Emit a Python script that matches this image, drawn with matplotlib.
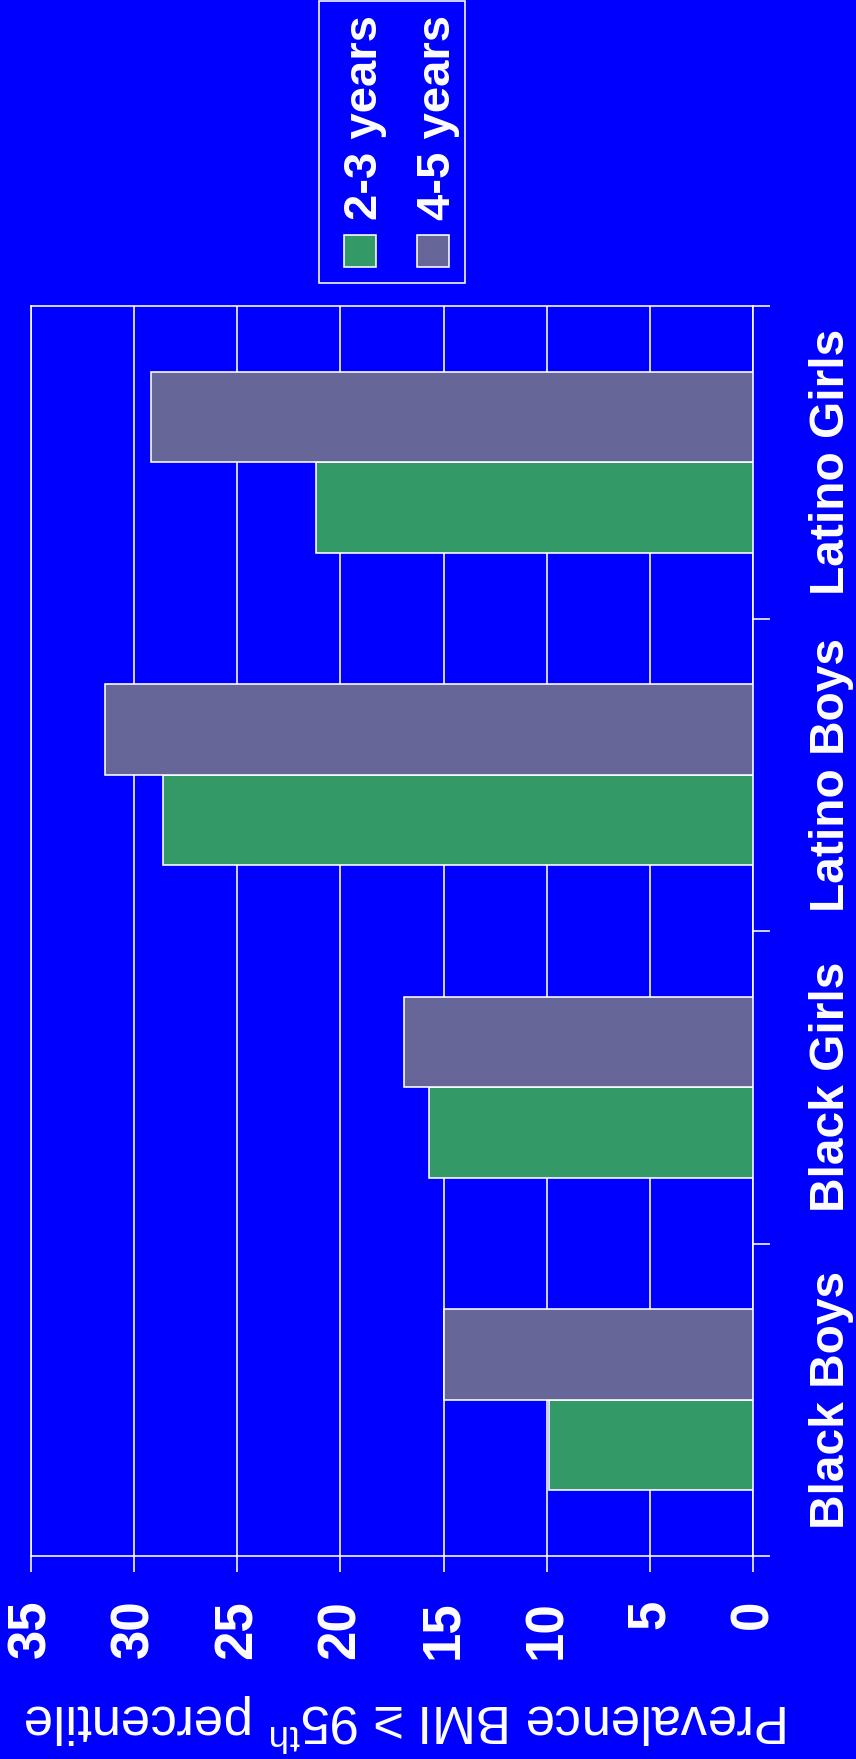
import matplotlib
matplotlib.use("Agg")
import matplotlib.pyplot as plt
from matplotlib.patches import Rectangle
import numpy as np

# ---- data ----
categories = ["Black Boys", "Black Girls", "Latino Boys", "Latino Girls"]
series_names = ["2-3 years", "4-5 years"]
age_2_3 = [9.9, 15.7, 28.6, 21.2]
age_4_5 = [15.0, 16.9, 31.4, 29.2]
value_ticks = [0, 5, 10, 15, 20, 25, 30, 35]
value_label = "Prevalence BMI \u2265 95$^{\\mathregular{th}}$ percentile"

# ---- style ----
BG = "#0000FF"
GREEN = "#339966"
PURPLE = "#666699"
WHITE = "white"
FONT = ["Liberation Sans", "DejaVu Sans"]
plt.rcParams["font.family"] = FONT
plt.rcParams["mathtext.fontset"] = "custom"
plt.rcParams["mathtext.rm"] = "Liberation Sans"

W, H = 856, 1759
DPI = 100
fig = plt.figure(figsize=(W / DPI, H / DPI), dpi=DPI, facecolor=BG)


def fx(px):
    return px / W


def fy(py):
    # pixel row measured from the top -> figure fraction
    return 1 - py / H


left_px, right_px, top_px, bottom_px = 31, 753, 306, 1556
ax = fig.add_axes([fx(left_px), fy(bottom_px),
                   fx(right_px - left_px), (bottom_px - top_px) / H])
ax.set_facecolor(BG)

pos = np.arange(len(categories))
bh = 0.29
lw_px = 1.6 * 72 / DPI
ax.barh(pos - bh / 2, age_2_3, height=bh, color=GREEN, edgecolor=WHITE,
        linewidth=lw_px, zorder=3)
ax.barh(pos + bh / 2, age_4_5, height=bh, color=PURPLE, edgecolor=WHITE,
        linewidth=lw_px, zorder=3)

ax.set_xlim(35, 0)
ax.set_ylim(-0.5, len(categories) - 0.5)

# value axis (bottom)
ax.set_xticks(value_ticks)
ax.set_xticklabels([str(v) for v in value_ticks])
ax.tick_params(axis="x", which="major", direction="out", length=16 * 72 / DPI,
               width=lw_px, color=WHITE, labelcolor=WHITE, labelsize=38,
               pad=20, labelrotation=90)
for lbl in ax.get_xticklabels():
    lbl.set_fontweight("bold")
    lbl.set_va("top")
    lbl.set_ha("center")

ax.grid(axis="x", color=WHITE, linewidth=lw_px, zorder=1)
ax.set_axisbelow(True)

# category axis (right)
ax.yaxis.tick_right()
ax.set_yticks(np.arange(-0.5, len(categories), 1.0))
ax.set_yticklabels([])
ax.set_yticks(pos, minor=True)
ax.set_yticklabels(categories, minor=True)
ax.tick_params(axis="y", which="major", direction="out", length=17 * 72 / DPI,
               width=lw_px, color=WHITE, right=True, left=False)
ax.tick_params(axis="y", which="minor", length=0, labelcolor=WHITE,
               labelsize=34.5, pad=40, right=True, left=False)
for lbl in ax.get_yticklabels(minor=True):
    lbl.set_fontweight("bold")
    lbl.set_rotation(90)
    lbl.set_va("center")
    lbl.set_ha("left")

for side in ["top", "bottom", "right", "left"]:
    ax.spines[side].set_color(WHITE)
    ax.spines[side].set_linewidth(lw_px)

# value-axis title, upside down below the tick labels
fig.text(fx(407), fy(1722), value_label, rotation=180, ha="center",
         va="center", color=WHITE, fontsize=38, fontfamily=FONT)

# legend box with rotated entries
lg_l, lg_r, lg_t, lg_b = 319, 465, 1, 283
fig.patches.append(Rectangle((fx(lg_l), fy(lg_b)), fx(lg_r - lg_l),
                             (lg_b - lg_t) / H, transform=fig.transFigure,
                             facecolor=BG, edgecolor=WHITE, linewidth=lw_px))
entries = [(GREEN, 344, 377), (PURPLE, 417, 450)]
for (col, sq_x, base_x), name in zip(entries, series_names):
    fig.patches.append(Rectangle((fx(sq_x), fy(267)), fx(32), 32 / H,
                                 transform=fig.transFigure, facecolor=col,
                                 edgecolor=WHITE, linewidth=lw_px))
    fig.text(fx(base_x), fy(220), name, rotation=90, rotation_mode="anchor",
             ha="left", va="baseline", color=WHITE, fontsize=34,
             fontweight="bold", fontfamily=FONT)

fig.savefig("out.png", dpi=DPI, facecolor=BG)
